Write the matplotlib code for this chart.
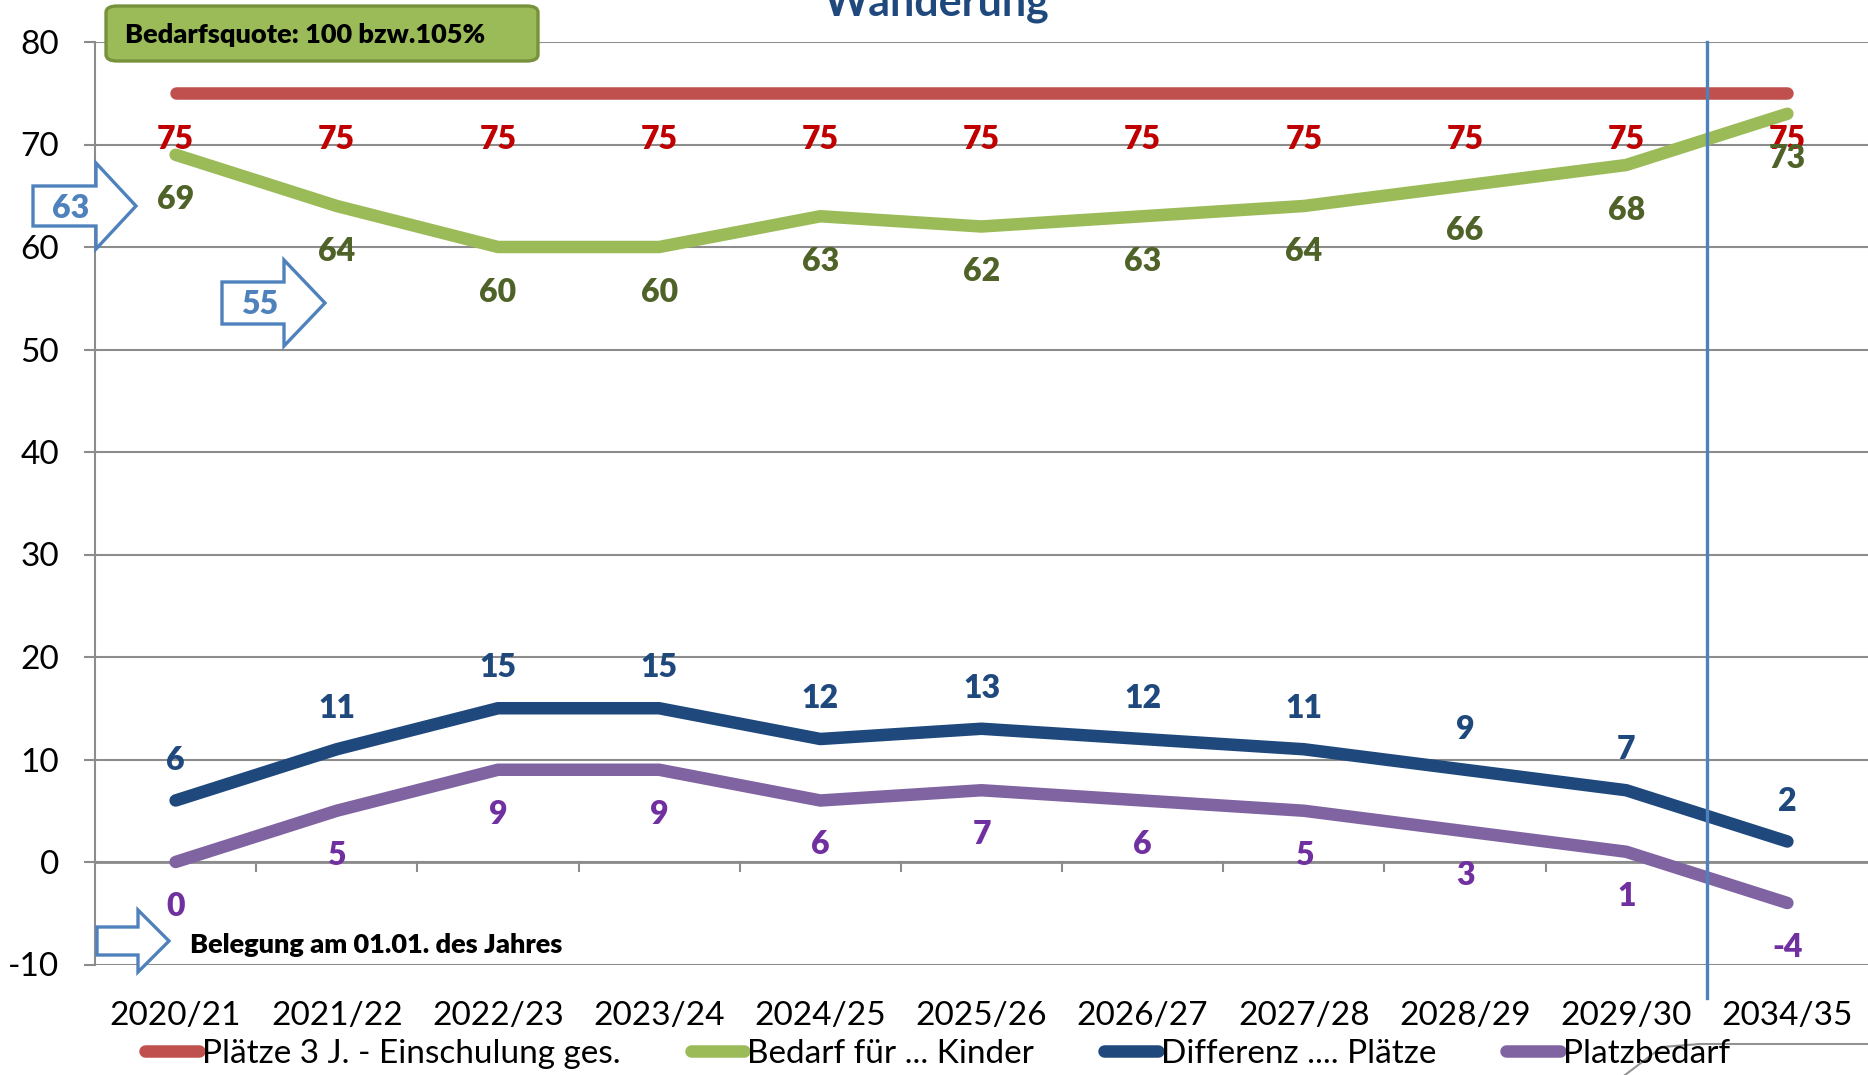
import numpy as np
import matplotlib
matplotlib.use("Agg")
import matplotlib.pyplot as plt
from matplotlib.patches import Polygon, FancyBboxPatch
from matplotlib.lines import Line2D

# -----------------------------------------------------------------------------
# DATEN
# -----------------------------------------------------------------------------
jahre = ["2020/21", "2021/22", "2022/23", "2023/24", "2024/25", "2025/26",
         "2026/27", "2027/28", "2028/29", "2029/30", "2034/35"]
plaetze = [75, 75, 75, 75, 75, 75, 75, 75, 75, 75, 75]
bedarf = [69, 64, 60, 60, 63, 62, 63, 64, 66, 68, 73]
differenz = [6, 11, 15, 15, 12, 13, 12, 11, 9, 7, 2]
platzbedarf = [0, 5, 9, 9, 6, 7, 6, 5, 3, 1, -4]

namen = ["Plätze 3 J. - Einschulung ges.", "Bedarf für ... Kinder",
         "Differenz .... Plätze", "Platzbedarf"]

# -----------------------------------------------------------------------------
# FARBEN
# -----------------------------------------------------------------------------
_RED = "#C0504D"
_GREEN = "#9BBB59"
_NAVY = "#1F497D"
_PURPLE = "#8064A2"
_ARROW = "#4F81BD"
_GRID = "#8C8C8C"

plt.rcParams.update({
    "font.family": ["Lato", "DejaVu Sans"],
    "font.size": 24,
    "axes.unicode_minus": False,
})

W, H = 1868, 1075
fig = plt.figure(figsize=(W / 100, H / 100), dpi=100)
fig.patch.set_facecolor("white")


def fx(px):
    return px / W


def fy(py):
    return 1 - py / H


ax = fig.add_axes([fx(95), fy(964.5), fx(1773), (964.5 - 42) / H])
x = np.arange(len(jahre))

# -- Linien -------------------------------------------------------------------
serien = [
    (plaetze, _RED, "#C00000", -33),
    (bedarf, _GREEN, "#4F6228", -32.5),
    (differenz, _NAVY, _NAVY, 29),
    (platzbedarf, _PURPLE, "#7030A0", -32),
]
handles = []
for (werte, farbe, lblfarbe, dy), name in zip(serien, namen):
    ln, = ax.plot(x, werte, color=farbe, lw=9, solid_capstyle="round",
                  solid_joinstyle="round", zorder=3, label=name)
    handles.append(ln)
    for xi, v in zip(x, werte):
        ax.annotate(f"{v}", (xi, v), xytext=(0, dy), textcoords="offset points",
                    ha="center", va="center", fontsize=23, fontweight="heavy",
                    color=lblfarbe, zorder=5)

# -- Trennlinie vor 2034/35 ---------------------------------------------------
trenn = len(jahre) - 1.5
ax.axvline(trenn, ymin=-0.036, ymax=1, color=_ARROW, lw=2.4, clip_on=False,
           zorder=4)

# -- Achsen -------------------------------------------------------------------
ax.set_xlim(-0.5, len(jahre) - 0.5)
ax.set_ylim(-10, 80)
ax.set_yticks(np.arange(-10, 81, 10))
ax.yaxis.grid(True, color=_GRID, lw=1.5)
ax.set_axisbelow(True)
ax.tick_params(axis="y", length=8, width=1.5, color=_GRID, pad=18,
               labelsize=24)

ax.spines["top"].set_visible(False)
ax.spines["right"].set_visible(False)
ax.spines["left"].set_color(_GRID)
ax.spines["left"].set_linewidth(1.5)
ax.spines["bottom"].set_position(("data", 0))
ax.spines["bottom"].set_color(_GRID)
ax.spines["bottom"].set_linewidth(2)

ax.set_xticks(x)
ax.set_xticklabels(jahre)
ax.set_xticks(np.arange(0.5, len(jahre) - 1, 1), minor=True)
ax.tick_params(axis="x", which="major", length=0, pad=100, labelsize=24)
ax.tick_params(axis="x", which="minor", length=7, width=1.5, color=_GRID,
               direction="out")

# -- Titel (oben abgeschnitten) -----------------------------------------------
fig.text(fx(937), fy(15.7), "Wanderung", ha="center", va="baseline",
         fontsize=31, fontweight="bold", color=_NAVY)

# -- Kasten Bedarfsquote ------------------------------------------------------
box = FancyBboxPatch((fx(106), fy(61)), fx(432), (61 - 6) / H,
                     boxstyle="round,pad=0,rounding_size=0.006",
                     transform=fig.transFigure, facecolor=_GREEN,
                     edgecolor="#76923C", lw=2.4, zorder=10)
fig.patches.append(box)
fig.text(fx(125), fy(35), "Bedarfsquote: 100 bzw.105%", ha="left",
         va="center", fontsize=19.5, fontweight="heavy", color="black",
         zorder=11)


# -- Blockpfeile --------------------------------------------------------------
def block_pfeil(x0, xh, xt, yc, hb, hh):
    pts = [(x0, yc - hb), (xh, yc - hb), (xh, yc - hh), (xt, yc),
           (xh, yc + hh), (xh, yc + hb), (x0, yc + hb)]
    poly = Polygon([(fx(a), fy(b)) for a, b in pts], closed=True,
                   transform=fig.transFigure, facecolor="white",
                   edgecolor=_ARROW, lw=2.4, joinstyle="miter", zorder=10)
    fig.patches.append(poly)


block_pfeil(33, 96, 136, 206, 20, 43)
fig.text(fx(71), fy(208), "63", ha="center", va="center", fontsize=23,
         fontweight="heavy", color=_ARROW, zorder=11)
block_pfeil(222, 284, 325, 303, 21, 43)
fig.text(fx(260), fy(305), "55", ha="center", va="center", fontsize=23,
         fontweight="heavy", color=_ARROW, zorder=11)
block_pfeil(97, 138, 169, 941, 14, 31)
fig.text(fx(190), fy(945), "Belegung am 01.01. des Jahres", ha="left",
         va="center", fontsize=19.5, fontweight="heavy", color="black",
         zorder=11)

# -- Legende ------------------------------------------------------------------
leg_handles = [Line2D([], [], color=h.get_color(), lw=9,
                      solid_capstyle="round") for h in handles]
fig.legend(leg_handles, namen, loc="center", bbox_to_anchor=(0.502, 0.0195),
           ncol=4, frameon=False, fontsize=24, handlelength=1.6,
           handletextpad=0.1, columnspacing=2.1, borderpad=0,
           borderaxespad=0)

# -- Rest einer Form unten rechts ---------------------------------------------
fig.add_artist(Line2D([fx(1625), fx(1662), fx(1700), fx(1868)],
                      [fy(1075), fy(1047), fy(1044), fy(1044)],
                      transform=fig.transFigure, color="#666666", lw=1.5,
                      alpha=0.7))

fig.savefig("out.png", dpi=100, facecolor="white")
